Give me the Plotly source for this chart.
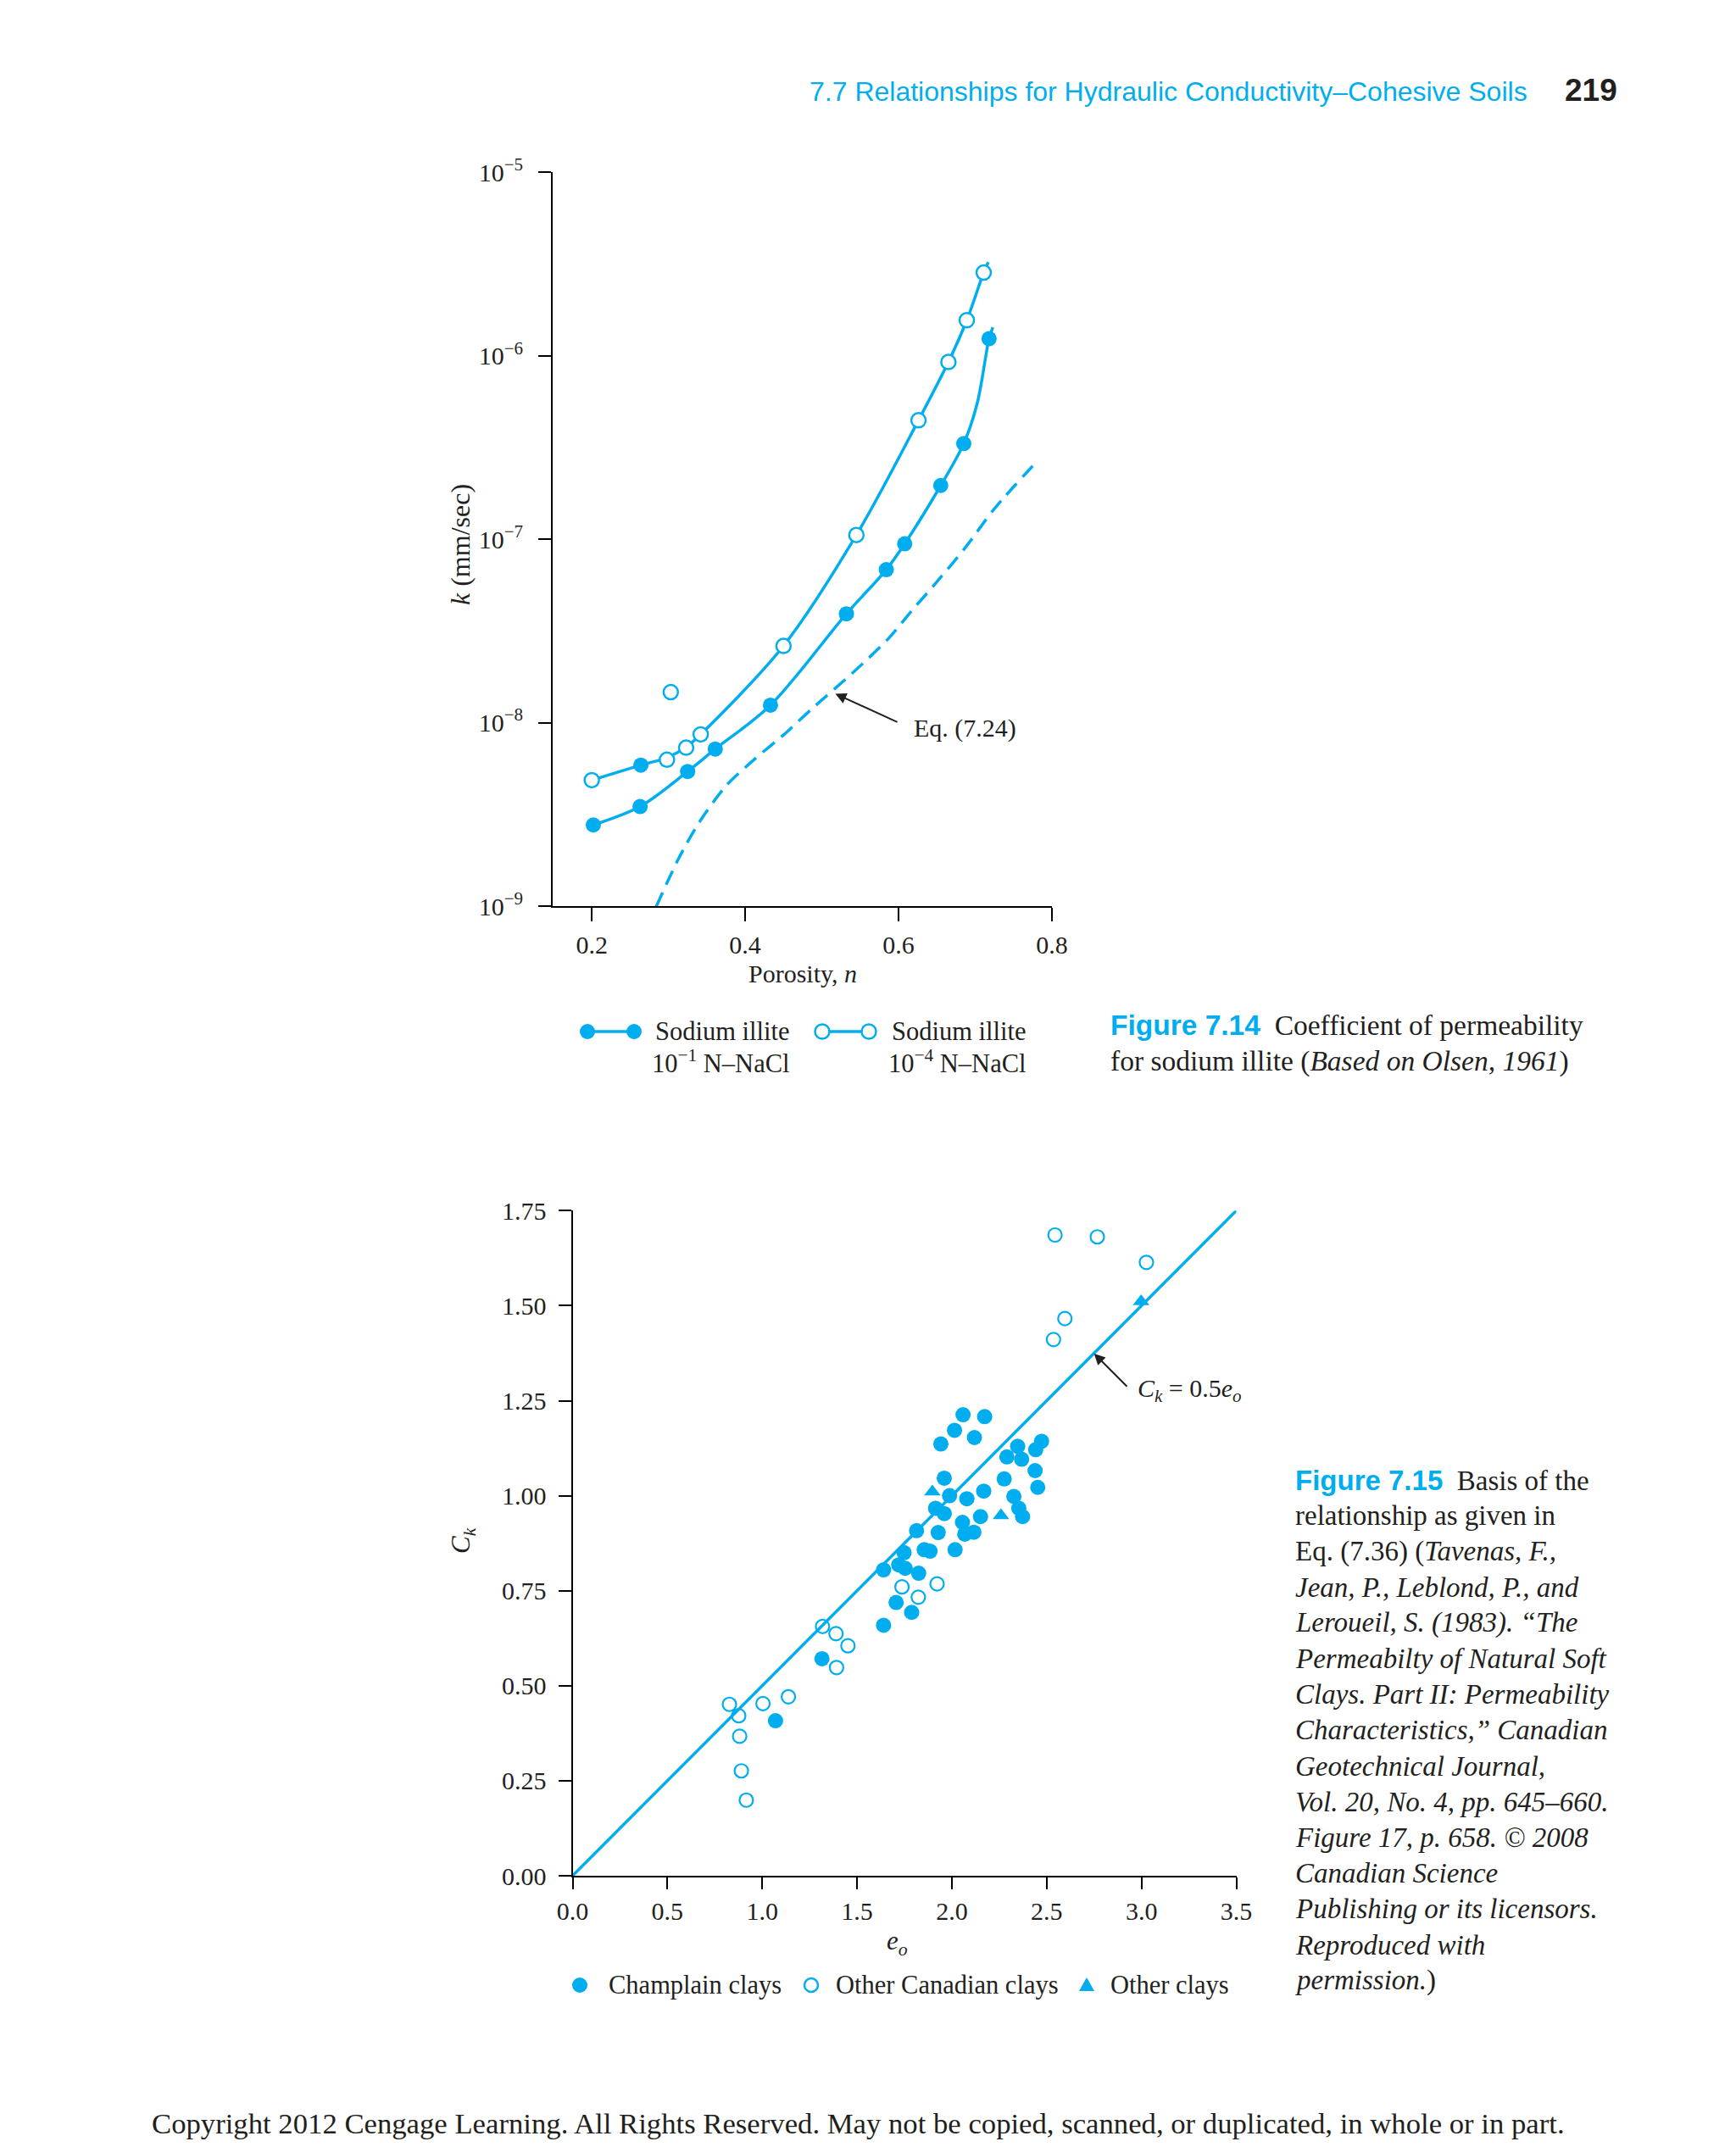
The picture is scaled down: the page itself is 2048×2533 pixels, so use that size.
import plotly.graph_objects as go

# page size (the browser adds an 8 px body margin, so the figure is 16 px smaller)
W, H = 2048, 2533
OFF = 8
FW, FH = W - 2 * OFF, H - 2 * OFF
CYAN = "#00AEEF"
INK = "#231F20"
SERIF = "Liberation Serif, Times New Roman, serif"
SANS = "Liberation Sans, Arial, sans-serif"

# ---------------- Figure 7.14 data ----------------
porosity_ticks = [0.2, 0.4, 0.6, 0.8]
porosity_tick_text = ["0.2", "0.4", "0.6", "0.8"]
k_tick_vals = [1e-9, 1e-8, 1e-7, 1e-6, 1e-5]
k_tick_text = ["10<sup>−9</sup>", "10<sup>−8</sup>", "10<sup>−7</sup>", "10<sup>−6</sup>", "10<sup>−5</sup>"]

# Sodium illite, 10^-1 N-NaCl (filled)
n_nacl1 = [0.202, 0.263, 0.264, 0.325, 0.361, 0.433, 0.532, 0.584, 0.608, 0.655, 0.685, 0.718]
k_nacl1 = [2.77e-9, 3.49e-9, 5.87e-9, 5.42e-9, 7.18e-9, 1.245e-8, 3.92e-8, 6.82e-8, 9.44e-8, 1.963e-7, 3.32e-7, 1.239e-6]

# Sodium illite, 10^-4 N-NaCl (open)
n_nacl4 = [0.200, 0.298, 0.303, 0.323, 0.342, 0.450, 0.545, 0.626, 0.665, 0.689, 0.711]
k_nacl4 = [4.86e-9, 6.28e-9, 1.466e-8, 7.31e-9, 8.63e-9, 2.62e-8, 1.054e-7, 4.45e-7, 9.25e-7, 1.563e-6, 2.84e-6]

# Fitted curves
fit1_n = [0.202, 0.263, 0.325, 0.361, 0.433, 0.532, 0.584, 0.608, 0.655, 0.685, 0.703, 0.718, 0.723]
fit1_k = [2.77e-9, 3.49e-9, 5.42e-9, 7.18e-9, 1.245e-8, 3.92e-8, 6.82e-8, 9.44e-8, 1.963e-7, 3.32e-7, 5.6e-7, 1.239e-6, 1.43e-6]
fit4_n = [0.200, 0.264, 0.298, 0.323, 0.342, 0.450, 0.545, 0.626, 0.665, 0.689, 0.711, 0.717]
fit4_k = [4.86e-9, 5.87e-9, 6.45e-9, 7.36e-9, 8.63e-9, 2.62e-8, 1.054e-7, 4.45e-7, 9.25e-7, 1.563e-6, 2.84e-6, 3.24e-6]

# Eq. (7.24) dashed curve
eq724_n = [0.284, 0.313, 0.340, 0.375, 0.412, 0.450, 0.488, 0.542, 0.585, 0.617, 0.650, 0.687, 0.725, 0.782]
eq724_k = [9.93e-10, 1.81e-9, 2.86e-9, 4.52e-9, 6.31e-9, 8.57e-9, 1.20e-8, 1.90e-8, 2.82e-8, 4.06e-8, 5.86e-8, 8.99e-8, 1.466e-7, 2.70e-7]

# ---------------- Figure 7.15 data ----------------
eo_ticks = [0.0, 0.5, 1.0, 1.5, 2.0, 2.5, 3.0, 3.5]
eo_tick_text = ["0.0", "0.5", "1.0", "1.5", "2.0", "2.5", "3.0", "3.5"]
ck_ticks = [0.0, 0.25, 0.5, 0.75, 1.0, 1.25, 1.5, 1.75]
ck_tick_text = ["0.00", "0.25", "0.50", "0.75", "1.00", "1.25", "1.50", "1.75"]

champlain_eo = [1.070, 1.315, 1.640, 1.706, 1.788, 1.640, 1.720, 1.748, 1.754, 1.825, 1.814, 1.854,
                1.885, 1.928, 1.914, 1.960, 1.960, 1.942, 2.014, 2.059, 2.173, 2.119, 1.988, 2.079,
                2.017, 2.056, 2.068, 2.116, 2.151, 2.168, 2.276, 2.290, 2.347, 2.368, 2.327, 2.353,
                2.373, 2.442, 2.473, 2.439, 2.453]
champlain_ck = [0.408, 0.571, 0.659, 0.719, 0.693, 0.805, 0.818, 0.850, 0.809, 0.796, 0.908, 0.858,
                0.854, 0.903, 0.967, 0.953, 1.046, 1.136, 1.172, 1.213, 1.208, 1.153, 1.000, 0.992,
                0.858, 0.930, 0.899, 0.904, 0.945, 1.012, 1.044, 1.102, 1.130, 1.096, 0.998, 0.967,
                0.945, 1.121, 1.143, 1.066, 1.022]

other_canadian_eo = [2.544, 2.767, 3.026, 2.596, 2.536, 1.318, 1.389, 1.452, 1.392, 1.737, 1.823, 1.922,
                     0.827, 0.876, 1.004, 1.138, 0.881, 0.890, 0.916]
other_canadian_ck = [1.686, 1.681, 1.614, 1.466, 1.411, 0.656, 0.637, 0.605, 0.548, 0.760, 0.733, 0.768,
                     0.451, 0.421, 0.453, 0.471, 0.367, 0.276, 0.199]

other_eo = [1.897, 2.259, 2.998]
other_ck = [1.010, 0.948, 1.511]

line_eo = [0.0, 3.5]
line_ck = [0.0, 1.75]


def px(x):
    return (x - OFF) / FW


def py(y):
    return 1 - (y - OFF) / FH


fig = go.Figure()

# ---- Figure 7.14 traces ----
fig.add_trace(go.Scatter(x=eq724_n, y=eq724_k, mode="lines", xaxis="x", yaxis="y",
                         line=dict(color=CYAN, width=3.5, dash="18px,10px", shape="spline", smoothing=0.8),
                         showlegend=False))
fig.add_trace(go.Scatter(x=fit1_n, y=fit1_k, mode="lines", xaxis="x", yaxis="y",
                         line=dict(color=CYAN, width=3.5, shape="spline", smoothing=0.9),
                         showlegend=False))
fig.add_trace(go.Scatter(x=fit4_n, y=fit4_k, mode="lines", xaxis="x", yaxis="y",
                         line=dict(color=CYAN, width=3.5, shape="spline", smoothing=0.9),
                         showlegend=False))
fig.add_trace(go.Scatter(x=n_nacl1, y=k_nacl1, mode="markers", xaxis="x", yaxis="y",
                         name="Sodium illite 10⁻¹ N–NaCl",
                         marker=dict(symbol="circle", size=18, color=CYAN, line=dict(width=0)),
                         showlegend=False, cliponaxis=False))
fig.add_trace(go.Scatter(x=n_nacl4, y=k_nacl4, mode="markers", xaxis="x", yaxis="y",
                         name="Sodium illite 10⁻⁴ N–NaCl",
                         marker=dict(symbol="circle", size=17, color="white", line=dict(width=2.5, color=CYAN)),
                         showlegend=False, cliponaxis=False))

# ---- Figure 7.15 traces ----
fig.add_trace(go.Scatter(x=line_eo, y=line_ck, mode="lines", xaxis="x2", yaxis="y2",
                         line=dict(color=CYAN, width=3.5), showlegend=False, cliponaxis=False))
fig.add_trace(go.Scatter(x=champlain_eo, y=champlain_ck, mode="markers", xaxis="x2", yaxis="y2",
                         name="Champlain clays", showlegend=False,
                         marker=dict(symbol="circle", size=18, color=CYAN, line=dict(width=0)),
                         cliponaxis=False))
fig.add_trace(go.Scatter(x=other_canadian_eo, y=other_canadian_ck, mode="markers", xaxis="x2", yaxis="y2",
                         name="Other Canadian clays", showlegend=False,
                         marker=dict(symbol="circle-open", size=16, color=CYAN, line=dict(width=2.2, color=CYAN)),
                         cliponaxis=False))
fig.add_trace(go.Scatter(x=other_eo, y=other_ck, mode="markers", xaxis="x2", yaxis="y2",
                         name="Other clays", showlegend=False,
                         marker=dict(symbol="triangle-up", size=17, color=CYAN, line=dict(width=0)),
                         cliponaxis=False))

axis_common = dict(showgrid=False, zeroline=False, showline=True, linecolor="black", linewidth=2,
                   ticks="outside", tickwidth=2, tickcolor="black", automargin=False,
                   tickfont=dict(family=SERIF, size=30, color=INK))

fig.update_layout(
    width=FW, height=FH,
    margin=dict(l=0, r=0, t=0, b=0, pad=0, autoexpand=False),
    paper_bgcolor="white", plot_bgcolor="white",
    font=dict(family=SERIF, color=INK),
    showlegend=False,
    xaxis=dict(domain=[px(652), px(1241)], range=[0.149, 0.8], anchor="y",
               tickvals=porosity_ticks, ticktext=porosity_tick_text, ticklen=16,
               ticklabelstandoff=2, **axis_common),
    yaxis=dict(domain=[py(1069), py(203.3)], type="log", range=[-9, -5], anchor="x",
               tickvals=k_tick_vals, ticktext=k_tick_text, ticklen=15,
               ticklabelstandoff=12, **axis_common),
    xaxis2=dict(domain=[px(675.5), px(1458.5)], range=[0, 3.5], anchor="y2",
                tickvals=eo_ticks, ticktext=eo_tick_text, ticklen=14, ticklabelstandoff=0, **axis_common),
    yaxis2=dict(domain=[py(2213), py(1428.3)], range=[0, 1.75], anchor="x2",
                tickvals=ck_ticks, ticktext=ck_tick_text, ticklen=15, ticklabelstandoff=8, **axis_common),
)

ann = []
shapes = []


def text(t, x, y, size, xanchor="left", color=INK, family=SERIF, angle=0):
    ann.append(dict(text=t, x=px(x), y=py(y), xref="paper", yref="paper", xanchor=xanchor,
                    yanchor="middle", align="left", showarrow=False, textangle=angle,
                    font=dict(family=family, size=size, color=color)))


def circle(cx, cy, r, filled):
    shapes.append(dict(type="circle", xref="paper", yref="paper", xsizemode="pixel", ysizemode="pixel",
                       xanchor=px(cx), yanchor=py(cy), x0=-r, x1=r, y0=-r, y1=r, layer="above",
                       fillcolor=CYAN if filled else "white",
                       line=dict(color=CYAN, width=0 if filled else 2.5)))


# header
text("7.7 Relationships for Hydraulic Conductivity–Cohesive Soils", 1804, 108, 32, xanchor="right",
     color=CYAN, family=SANS)
text("<b>219</b>", 1910, 106, 37, xanchor="right", color=INK, family=SANS)

# axis titles fig 7.14
text("<i>k</i> (mm/sec)", 543, 643, 32, xanchor="center", angle=-90)
text("Porosity, <i>n</i>", 947, 1148, 30, xanchor="center")

# Eq. (7.24) arrow and label
ann.append(dict(x=0.5175, y=-7.842, ax=0.600, ay=-8.0, xref="x", yref="y", axref="x", ayref="y",
                text="", showarrow=True, arrowhead=2, arrowsize=1.3, arrowwidth=2, arrowcolor=INK))
ann.append(dict(text="Eq. (7.24)", x=0.618, y=-8.03, xref="x", yref="y", xanchor="left", yanchor="middle",
                showarrow=False, font=dict(family=SERIF, size=30, color=INK)))

# legend of fig 7.14 (drawn)
shapes.append(dict(type="line", xref="paper", yref="paper", x0=px(693), x1=px(748), y0=py(1217), y1=py(1217),
                   line=dict(color=CYAN, width=3.5)))
shapes.append(dict(type="line", xref="paper", yref="paper", x0=px(970), x1=px(1025), y0=py(1217), y1=py(1217),
                   line=dict(color=CYAN, width=3.5)))
circle(693, 1217, 9, True)
circle(748, 1217, 9, True)
circle(970, 1217, 8.5, False)
circle(1025, 1217, 8.5, False)
text("Sodium illite", 771, 1217, 30.5)
text("10<sup>−1</sup> N–NaCl", 767, 1252, 30.5)
text("Sodium illite", 1050, 1217, 30.5)
text("10<sup>−4</sup> N–NaCl", 1046, 1252, 30.5)

# caption 7.14
text("<span style='font-family:Liberation Sans, Arial, sans-serif;color:#00AEEF'><b>Figure 7.14</b></span>"
     "  Coefficient of permeability", 1308, 1210, 33.5)
text("for sodium illite (<i>Based on Olsen, 1961</i>)", 1308, 1252, 33.5)

# axis titles fig 7.15
text("<i>C<sub>k</sub></i>", 546, 1818, 31, xanchor="center", angle=-90)
text("<i>e<sub>o</sub></i>", 1058, 2292, 31, xanchor="center")

# Ck = 0.5 eo arrow
ann.append(dict(x=2.75, y=1.374, ax=2.93, ay=1.284, xref="x2", yref="y2", axref="x2", ayref="y2",
                text="", showarrow=True, arrowhead=2, arrowsize=1.3, arrowwidth=2, arrowcolor=INK))
ann.append(dict(text="<i>C<sub>k</sub></i> = 0.5<i>e<sub>o</sub></i>", x=2.97, y=1.277, xref="x2", yref="y2",
                xanchor="left", yanchor="middle", showarrow=False,
                font=dict(family=SERIF, size=30, color=INK)))

# legend of fig 7.15 (drawn)
circle(684, 2342, 9, True)
circle(957, 2342, 8, False)
shapes.append(dict(type="path", xref="paper", yref="paper", xsizemode="pixel", ysizemode="pixel",
                   xanchor=px(1282), yanchor=py(2342), path="M -9,-7 L 9,-7 L 0,9 Z",
                   fillcolor=CYAN, line=dict(width=0)))
text("Champlain clays", 716, 2342, 30.5)
text("Other Canadian clays", 984, 2342, 30.5)
text("Other clays", 1308, 2342, 30.5)

# caption 7.15
cap_lines = [
    "<span style='font-family:Liberation Sans, Arial, sans-serif;color:#00AEEF'><b>Figure 7.15</b></span>  Basis of the",
    "relationship as given in",
    "Eq. (7.36) (<i>Tavenas, F.,</i>",
    "<i>Jean, P., Leblond, P., and</i>",
    "<i>Leroueil, S. (1983). “The</i>",
    "<i>Permeabilty of Natural Soft</i>",
    "<i>Clays. Part II: Permeability</i>",
    "<i>Characteristics,” Canadian</i>",
    "<i>Geotechnical Journal,</i>",
    "<i>Vol. 20, No. 4, pp. 645–660.</i>",
    "<i>Figure 17, p. 658. © 2008</i>",
    "<i>Canadian Science</i>",
    "<i>Publishing or its licensors.</i>",
    "<i>Reproduced with</i>",
    "<i>permission.</i>)",
]
for i, line in enumerate(cap_lines):
    text(line, 1526, 1746 + i * 42.2, 33)

# copyright
text("Copyright 2012 Cengage Learning. All Rights Reserved. May not be copied, scanned, or duplicated, in whole or in part.",
     1012, 2505, 34.7, xanchor="center")

fig.update_layout(annotations=ann, shapes=shapes)
fig.write_html("out.html")
